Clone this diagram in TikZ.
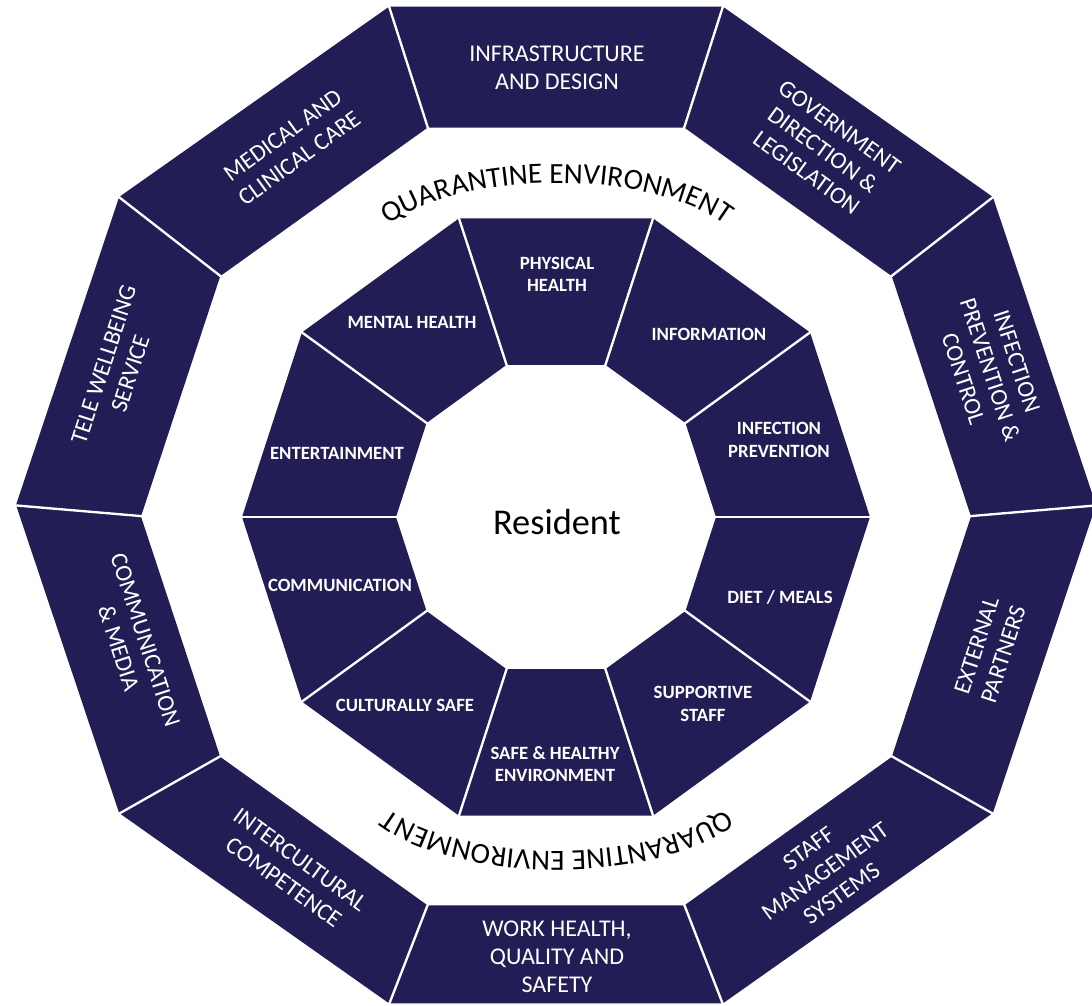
\documentclass[tikz,border=0pt]{standalone}
\usepackage{fontspec}
\setmainfont{Carlito}
\usetikzlibrary{decorations.text}
\definecolor{navy}{HTML}{221D55}
\begin{document}
\begin{tikzpicture}[x=0.03cm,y=-0.03cm,
  seg/.style={fill=navy},
  divider/.style={draw=white, line width=2pt},
  outlbl/.style={text=white, align=center, inner sep=0pt, font=\fontsize{20.5}{24}\selectfont},
  inlbl/.style={text=white, align=center, inner sep=0pt, font=\bfseries\fontsize{16}{19}\selectfont},
  arctext/.style={decorate, decoration={text along path, text align=center,
     text={|\fontsize{25}{30}\selectfont|QUARANTINE ENVIRONMENT}}}
]
\fill[white] (0,0) rectangle (1092,1005);
\useasboundingbox (0,0) rectangle (1092,1005);
\clip (0,0) rectangle (1092,1005);

% outer ring segments
\foreach \k in {0,...,9}{
  \pgfmathsetmacro\a{108-36*\k}
  \pgfmathsetmacro\b{72-36*\k}
  \fill[seg] ({556+540*cos(\a)},{505-524*sin(\a)}) -- ({556+540*cos(\b)},{505-524*sin(\b)})
     -- ({556+415*cos(\b)},{516.5-409*sin(\b)}) -- ({556+415*cos(\a)},{516.5-409*sin(\a)}) -- cycle;
}
\foreach \k in {0,...,9}{
  \pgfmathsetmacro\a{108-36*\k}
  \draw[divider] ({556+545*cos(\a)},{505-529*sin(\a)}) -- ({556+410*cos(\a)},{516.5-404*sin(\a)});
}

% inner ring segments
\foreach \k in {0,...,9}{
  \pgfmathsetmacro\a{108-36*\k}
  \pgfmathsetmacro\b{72-36*\k}
  \fill[seg] ({556+314*cos(\a)},{517-314*sin(\a)}) -- ({556+314*cos(\b)},{517-314*sin(\b)})
     -- ({556+160*cos(\b)},{517-160*sin(\b)}) -- ({556+160*cos(\a)},{517-160*sin(\a)}) -- cycle;
}
\foreach \k in {0,...,9}{
  \pgfmathsetmacro\a{108-36*\k}
  \draw[divider] ({556+318*cos(\a)},{517-318*sin(\a)}) -- ({556+156*cos(\a)},{517-156*sin(\a)});
}

% outer labels
\node[outlbl] (infra) at (557,68) {INFRASTRUCTURE\\AND DESIGN};
\node[outlbl, rotate=-36] (gov) at (823,150) {GOVERNMENT\\DIRECTION \&\\LEGISLATION};
\node[outlbl, rotate=-72] (ipc) at (990,370) {INFECTION\\PREVENTION \&\\CONTROL};
\node[outlbl, rotate=72] (ext) at (990,650) {EXTERNAL\\PARTNERS};
\node[outlbl, rotate=36] (staff) at (825,871) {STAFF\\MANAGEMENT\\SYSTEMS};
\node[outlbl] (work) at (557,957) {WORK HEALTH,\\QUALITY AND\\SAFETY};
\node[outlbl, rotate=-36] (inter) at (292,871) {INTERCULTURAL\\COMPETENCE};
\node[outlbl, rotate=-72] (comm) at (132,644) {COMMUNICATION\\\& MEDIA};
\node[outlbl, rotate=72] (tele) at (117,369) {TELE WELLBEING\\SERVICE};
\node[outlbl, rotate=36] (med) at (291,147) {MEDICAL AND\\CLINICAL CARE};

% inner labels
\node[inlbl] (phys) at (557,274) {PHYSICAL\\HEALTH};
\node[inlbl] (info) at (709,334) {INFORMATION};
\node[inlbl] (infprev) at (779,440) {INFECTION\\PREVENTION};
\node[inlbl] (diet) at (780,597) {DIET / MEALS};
\node[inlbl] (supp) at (703,704) {SUPPORTIVE\\STAFF};
\node[inlbl] (safe) at (555,764) {SAFE \& HEALTHY\\ENVIRONMENT};
\node[inlbl] (cult) at (405,705) {CULTURALLY SAFE};
\node[inlbl] (icomm) at (340,585) {COMMUNICATION};
\node[inlbl] (ent) at (337,453) {ENTERTAINMENT};
\node[inlbl] (mental) at (412,322) {MENTAL HEALTH};

% centre
\node[text=black, inner sep=0pt, font=\fontsize{31}{36}\selectfont] (res) at (557,522) {Resident};

% curved texts
\path[arctext] plot[domain=153:27, samples=90] ({557+193*cos(\x)},{265-82*sin(\x)});
\path[arctext] plot[domain=153:27, samples=90] ({557-193*cos(\x)},{769+82*sin(\x)});
\end{tikzpicture}
\end{document}
